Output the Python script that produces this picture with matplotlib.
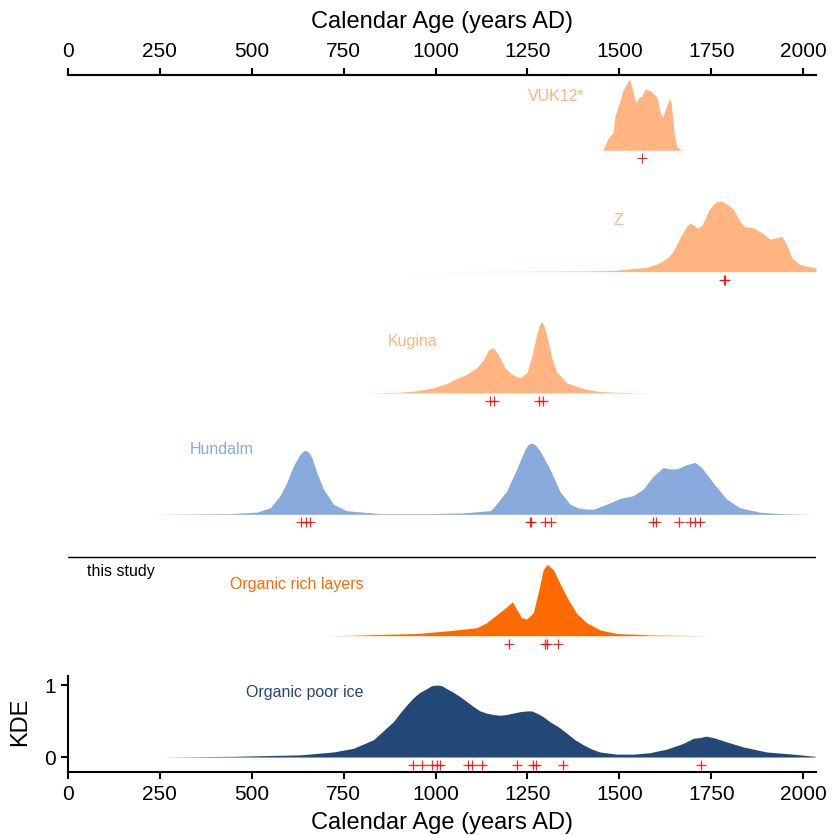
import matplotlib
matplotlib.use("Agg")
import matplotlib.pyplot as plt

plt.rcParams["font.family"] = ["Liberation Sans", "DejaVu Sans"]

# record names, top to bottom
names = ["VUK12*", "Z", "Kugina", "Hundalm", "Organic rich layers", "Organic poor ice"]

# density curves (calendar year, KDE scaled to max 1)
vuk12_years = [1450, 1456, 1462, 1470, 1483, 1488, 1500, 1509, 1520, 1525, 1529, 1536, 1545, 1552,
               1561, 1570, 1583, 1597, 1603, 1610, 1618, 1627, 1636, 1641, 1649, 1656, 1665, 1674]
vuk12_kde = [0, 0.01, 0.08, 0.17, 0.24, 0.47, 0.66, 0.82, 0.93, 0.97, 0.98, 0.84, 0.65, 0.73,
             0.75, 0.85, 0.83, 0.77, 0.72, 0.54, 0.46, 0.59, 0.72, 0.66, 0.24, 0.06, 0.01, 0]

z_years = [900, 1100, 1300, 1393, 1483, 1574, 1600, 1619, 1635, 1647, 1665, 1683, 1692, 1700,
           1710, 1724, 1742, 1755, 1765, 1778, 1792, 1810, 1828, 1842, 1864, 1887, 1910, 1928,
           1942, 1955, 1969, 1991, 2010, 2027, 2035]
z_kde = [0, 0.002, 0.005, 0.008, 0.015, 0.06, 0.10, 0.15, 0.21, 0.29, 0.47, 0.63, 0.67, 0.65,
         0.61, 0.63, 0.84, 0.93, 0.97, 0.98, 0.94, 0.87, 0.70, 0.62, 0.61, 0.54, 0.45, 0.47,
         0.49, 0.38, 0.19, 0.10, 0.075, 0.06, 0.05]

kugina_years = [813, 903, 949, 994, 1030, 1057, 1085, 1112, 1130, 1143, 1150, 1157, 1171, 1189,
                1207, 1230, 1248, 1261, 1275, 1283, 1289, 1295, 1302, 1316, 1329, 1357, 1402,
                1447, 1493, 1583]
kugina_kde = [0, 0.01, 0.03, 0.07, 0.13, 0.20, 0.26, 0.35, 0.46, 0.59, 0.62, 0.63, 0.53, 0.35,
              0.26, 0.21, 0.28, 0.49, 0.81, 0.95, 0.99, 0.93, 0.81, 0.49, 0.30, 0.14, 0.06,
              0.02, 0.01, 0]

hundalm_years = [223, 441, 513, 550, 577, 595, 613, 631, 640, 647, 655, 663, 677, 695, 722, 758,
                 849, 985, 1075, 1148, 1157, 1193, 1221, 1243, 1252, 1261, 1272, 1284, 1311, 1338,
                 1366, 1393, 1429, 1465, 1502, 1538, 1565, 1592, 1619, 1638, 1656, 1683, 1706,
                 1724, 1755, 1792, 1828, 1882, 1937, 2027]
hundalm_kde = [0, 0.01, 0.03, 0.09, 0.26, 0.44, 0.67, 0.83, 0.88, 0.89, 0.86, 0.79, 0.58, 0.35,
               0.14, 0.05, 0.01, 0.01, 0.02, 0.05, 0.09, 0.32, 0.63, 0.90, 0.97, 0.99, 0.96,
               0.88, 0.63, 0.32, 0.14, 0.08, 0.07, 0.14, 0.22, 0.26, 0.35, 0.53, 0.65, 0.63,
               0.63, 0.69, 0.72, 0.65, 0.44, 0.21, 0.09, 0.03, 0.01, 0]

rich_years = [705, 767, 949, 1039, 1112, 1139, 1166, 1189, 1209, 1221, 1234, 1248, 1266, 1279,
              1293, 1304, 1320, 1338, 1361, 1384, 1411, 1447, 1493, 1583, 1747]
rich_kde = [0, 0.005, 0.03, 0.07, 0.11, 0.18, 0.29, 0.38, 0.47, 0.36, 0.25, 0.23, 0.32, 0.59,
            0.92, 0.99, 0.92, 0.73, 0.50, 0.31, 0.18, 0.08, 0.03, 0.01, 0]

poor_years = [250, 450, 631, 722, 776, 831, 885, 903, 921, 939, 958, 976, 989, 1003, 1017, 1030,
              1048, 1066, 1085, 1103, 1121, 1139, 1157, 1175, 1193, 1211, 1230, 1248, 1261, 1275,
              1293, 1311, 1334, 1357, 1379, 1402, 1425, 1447, 1493, 1538, 1583, 1629, 1674,
              1701, 1719, 1737, 1755, 1774, 1792, 1837, 1901, 1973, 2032]
poor_kde = [0, 0.01, 0.03, 0.07, 0.12, 0.24, 0.49, 0.61, 0.72, 0.82, 0.90, 0.95, 0.99, 1.0,
            0.99, 0.95, 0.90, 0.84, 0.77, 0.70, 0.64, 0.61, 0.59, 0.58, 0.59, 0.61, 0.63, 0.64,
            0.64, 0.61, 0.56, 0.49, 0.42, 0.33, 0.24, 0.17, 0.11, 0.07, 0.04, 0.04, 0.06, 0.11,
            0.19, 0.26, 0.27, 0.29, 0.27, 0.24, 0.21, 0.14, 0.07, 0.04, 0.01]

# individual dated samples (red crosses)
vuk12_dates = [1561]
z_dates = [1785, 1788]
kugina_dates = [1148, 1159, 1281, 1292]
hundalm_dates = [634, 647, 658, 1257, 1260, 1298, 1313, 1592, 1601, 1662, 1692, 1706, 1719]
rich_dates = [1200, 1298, 1303, 1333]
poor_dates = [939, 963, 990, 1003, 1012, 1088, 1099, 1126, 1221, 1265, 1273, 1347, 1722]

colors = ["#FFB482", "#FFB482", "#FFB482", "#88AADD", "#FF6A00", "#234777"]

curves = [(vuk12_years, vuk12_kde, vuk12_dates),
          (z_years, z_kde, z_dates),
          (kugina_years, kugina_kde, kugina_dates),
          (hundalm_years, hundalm_kde, hundalm_dates),
          (rich_years, rich_kde, rich_dates),
          (poor_years, poor_kde, poor_dates)]

# label placement (year of left edge, height above the ridge baseline)
label_pos = [(1251, 0.74), (1483, 0.71), (870, 0.71), (330, 0.90), (441, 0.71), (484, 0.90)]

STEP = 1.685
n = len(names)

fig = plt.figure(figsize=(8.34, 8.35), dpi=100)
ax = fig.add_axes([68 / 834, 63 / 835, 748 / 834, 697 / 835])

for i, (name, col, (xs, ys, dates), (lx, ly)) in enumerate(zip(names, colors, curves, label_pos)):
    base = (n - 1 - i) * STEP
    ax.fill_between(xs, base, [base + v for v in ys], color=col, lw=0, zorder=2)
    ax.plot(dates, [base - 0.11] * len(dates), ls="none", marker="+", color="red",
            ms=7, mew=0.9, alpha=0.85, zorder=3)
    ax.text(lx, base + ly, name, color=col, fontsize=11.5, ha="left", va="center")

# separator between published records and this study
ax.axhline(2.78, color="black", lw=1)
ax.text(52, 2.58, "this study", fontsize=11.5, ha="left", va="center")

ax.set_xlim(0, 2035)
ax.set_ylim(-0.208, 9.47)
xt = [0, 250, 500, 750, 1000, 1250, 1500, 1750, 2000]
ax.set_xticks(xt)
ax.set_yticks([0, 1])
ax.tick_params(labelsize=15, width=1.5, length=5, pad=4)
ax.spines["right"].set_visible(False)
for s in ["left", "bottom", "top"]:
    ax.spines[s].set_linewidth(1.5)
ax.spines["left"].set_bounds(-0.208, 1.125)
ax.set_xlabel("Calendar Age (years AD)", fontsize=17, labelpad=6)
fig.text(20 / 834, 1 - 722 / 835, "KDE", rotation=90, fontsize=17, ha="center", va="center")

secax = ax.secondary_xaxis("top")
secax.set_xticks(xt)
secax.tick_params(labelsize=15, width=1.5, length=5, pad=5)
secax.spines["top"].set_linewidth(1.5)
secax.set_xlabel("Calendar Age (years AD)", fontsize=17, labelpad=10)

fig.savefig("out.png", dpi=100)
